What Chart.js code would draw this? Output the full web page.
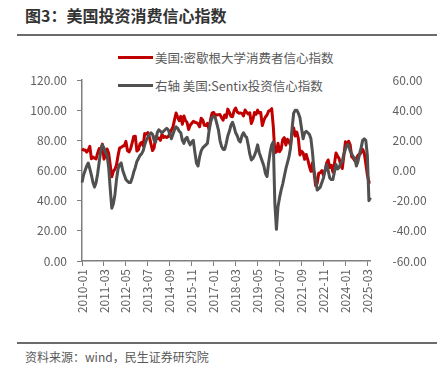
<!DOCTYPE html>
<html>
<head>
<meta charset="utf-8">
<script src="https://cdn.jsdelivr.net/npm/chart.js@4.4.1/dist/chart.umd.min.js"></script>
<style>
  html, body { margin: 0; padding: 0; background: #fff; }
  body { width: 448px; height: 377px; position: relative; overflow: hidden; font-family: "Noto Sans CJK SC", "Noto Sans", sans-serif; }
  .title { position: absolute; left: 25px; top: 3px; font-size: 16px; font-weight: bold; color: #333; }
  .rule { position: absolute; left: 17px; width: 420px; height: 1.5px; background: #6b6b6b; }
  .legend { position: absolute; left: 118px; font-size: 12.5px; color: #595959; display: flex; align-items: center; }
  .legend i { display: inline-block; width: 35px; height: 3px; margin-right: 2px; }
  .source { position: absolute; left: 25px; top: 348px; font-size: 12px; color: #595959; }
  #wrap { position: absolute; left: 0; top: 40px; width: 448px; height: 300px; }
</style>
</head>
<body>
<div class="title">图3：美国投资消费信心指数</div>
<div class="rule" style="top:34px"></div>
<div class="legend" style="top:48px"><i style="background:#c00000"></i>美国:密歇根大学消费者信心指数</div>
<div class="legend" style="top:76px"><i style="background:#505050"></i>右轴 美国:Sentix投资信心指数</div>
<div id="wrap"><canvas id="chart"></canvas></div>
<div class="rule" style="top:342px"></div>
<div class="source">资料来源：wind，民生证券研究院</div>

<script>
// monthly, 2010-01 .. 2025-05
const startYear = 2010;

const michigan = [
  74.4, 73.6, 73.6, 72.2, 73.6, 76.0, 67.8, 68.9, 68.2, 67.7, 71.6, 74.5,
  74.2, 77.5, 67.5, 69.8, 74.3, 71.5, 63.7, 55.8, 59.5, 60.8, 63.7, 69.9,
  75.0, 75.3, 76.2, 76.4, 79.3, 73.2, 72.3, 74.3, 78.3, 82.6, 82.7, 72.9,
  73.8, 77.6, 78.6, 76.4, 84.5, 84.1, 85.1, 82.1, 77.5, 73.2, 75.1, 82.5,
  81.2, 81.6, 80.0, 84.1, 81.9, 82.5, 81.8, 82.5, 84.6, 86.9, 88.8, 93.6,
  98.1, 95.4, 93.0, 95.9, 90.7, 96.1, 93.1, 91.9, 87.2, 90.0, 91.3, 92.6,
  92.0, 91.7, 91.0, 89.0, 94.7, 93.5, 90.0, 89.8, 91.2, 87.2, 93.8, 98.2,
  98.5, 96.3, 96.9, 97.0, 97.1, 95.0, 93.4, 96.8, 95.1, 100.7, 98.5, 95.9,
  95.7, 99.7, 101.4, 98.8, 98.0, 98.2, 97.9, 96.2, 100.1, 98.6, 97.5, 98.3,
  91.2, 93.8, 98.4, 97.2, 100.0, 98.2, 98.4, 89.8, 93.2, 95.5, 96.8, 99.3,
  99.8, 101.0, 89.1, 71.8, 72.3, 78.1, 72.5, 74.1, 80.4, 81.8, 76.9, 80.7,
  79.0, 76.8, 84.9, 88.3, 82.9, 85.5, 81.2, 70.3, 72.8, 71.7, 67.4, 70.6,
  67.2, 62.8, 59.4, 65.2, 58.4, 50.0, 51.5, 58.2, 58.6, 59.9, 56.8, 59.7,
  64.9, 67.0, 62.0, 63.5, 59.0, 64.4, 71.6, 69.5, 67.9, 63.8, 61.3, 69.7,
  79.0, 76.9, 79.4, 77.2, 69.1, 68.2, 66.4, 67.9, 70.1, 70.5, 71.8, 74.0,
  71.7, 64.7, 57.0, 52.2, 52.2
];

const sentix = [
  -8, -3, 0, 3, 5, 1, -3, -8, -11, -8, -2, 6,
  13, 17, 15, 12, 10, 2, -12, -25, -22, -16, -6, 1,
  4, 5, 0, -3, -6, -7, -8, -8, -5, -1, 2, 6,
  8, 10, 11, 13, 17, 20, 22, 24, 25, 24, 20, 19,
  25, 27, 26, 25, 26, 27, 28, 27, 24, 21, 24, 27,
  29, 28, 26, 25, 20, 18, 21, 22, 19, 17, 19, 20,
  12, 5, 3, 9, 13, 15, 16, 17, 18, 26, 32, 35,
  36, 35, 31, 27, 20, 16, 14, 14, 18, 23, 26, 30,
  32, 29, 25, 23, 20, 19, 23, 25, 23, 22, 17, 11,
  7, 8, 10, 13, 17, 12, 9, 6, 3, -2, -4, 5,
  12, 17, 19, -22, -39, -24, -18, -13, -9, -4, 1, 5,
  9, 15, 28, 38, 40, 40, 38, 35, 28, 21, 25, 26,
  25, 24, 21, 12, 0, -6, -13, -12, -11, -8, -5, 0,
  4, 0, -5, -6, -6, -1, 4, 1, 2, 5, 6, 11,
  14, 17, 17, 13, 11, 9, 8, 3, 6, 11, 15, 20,
  21, 20, 10, -20, -18
];

const labels = [];
for (let i = 0; i < michigan.length; i++) {
  const y = startYear + Math.floor(i / 12);
  const m = (i % 12) + 1;
  labels.push(y + '-' + (m < 10 ? '0' + m : m));
}
const tickEvery = 14;

const axisColor = '#7f7f7f';
const textColor = '#606060';
const font = { family: '"Noto Sans CJK SC", "Noto Sans", sans-serif', size: 12 };

new Chart(document.getElementById('chart'), {
  type: 'line',
  data: {
    labels: labels,
    datasets: [
      {
        label: '美国:密歇根大学消费者信心指数',
        data: michigan,
        borderColor: '#c00000',
        borderWidth: 3,
        pointRadius: 0,
        tension: 0,
        borderJoinStyle: 'round',
        yAxisID: 'y',
        order: 1
      },
      {
        label: '右轴 美国:Sentix投资信心指数',
        data: sentix,
        borderColor: '#505050',
        borderWidth: 3,
        pointRadius: 0,
        tension: 0,
        borderJoinStyle: 'round',
        yAxisID: 'y1',
        order: 0
      }
    ]
  },
  options: {
    responsive: true,
    maintainAspectRatio: false,
    animation: false,
    layout: { padding: { top: 40, left: 0, right: 0, bottom: 0 } },
    plugins: {
      legend: { display: false },
      tooltip: { enabled: false }
    },
    scales: {
      x: {
        type: 'category',
        offset: false,
        afterFit: (s) => { s.height = 79; },
        border: { display: true, color: axisColor, width: 1.5 },
        grid: { drawOnChartArea: false, drawTicks: true, tickLength: 5, color: axisColor },
        ticks: {
          autoSkip: false,
          maxRotation: 90,
          minRotation: 90,
          padding: 3,
          color: textColor,
          font: font,
          callback: function (v, i) { return i % tickEvery === 0 ? labels[i] : null; }
        }
      },
      y: {
        position: 'left',
        min: 0,
        max: 120,
        afterFit: (s) => { s.width = 82; },
        border: { display: true, color: axisColor, width: 1.5 },
        grid: { drawOnChartArea: false, drawTicks: true, tickLength: 5, color: axisColor },
        ticks: { stepSize: 20, padding: 10, color: textColor, font: font, callback: (v) => v.toFixed(2) }
      },
      y1: {
        position: 'right',
        min: -60,
        max: 60,
        afterFit: (s) => { s.width = 77.5; },
        border: { display: false },
        grid: { display: false },
        ticks: { stepSize: 20, padding: 14, color: textColor, font: font, callback: (v) => v.toFixed(2) }
      }
    }
  }
});
</script>
</body>
</html>
